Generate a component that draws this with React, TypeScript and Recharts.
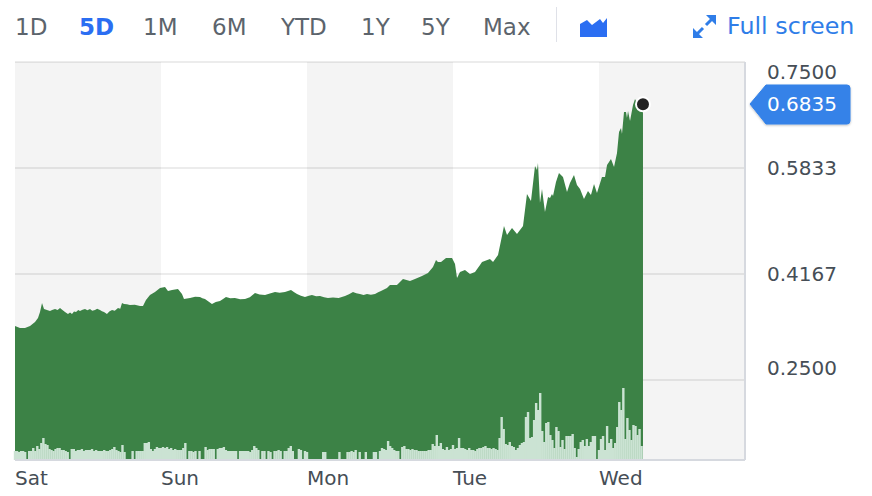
import { ComposedChart, Area, Bar, XAxis, YAxis, CartesianGrid, ReferenceArea, ReferenceDot } from 'recharts'

const ranges = ['1D', '5D', '1M', '6M', 'YTD', '1Y', '5Y', 'Max']
const rangeLefts = [15, 79, 143, 212, 281, 361, 421, 483]
const dayLabels = ['Sat', 'Sun', 'Mon', 'Tue', 'Wed']
const dayHours = [0, 24, 48, 72, 96]
const priceTicks = [0.25, 0.4167, 0.5833, 0.75]
const lastPrice = 0.6835

const priceHours = [
  0, 0.82, 1.64, 2.47, 3.29, 3.78, 4.11, 4.44, 4.77,
  5.26, 5.75, 6.1, 6.58, 7.0, 7.4, 7.8, 8.22, 8.71, 9.05, 9.37, 9.7, 10.03, 10.4, 10.68, 11.1, 11.51, 11.9, 12.33, 12.7,
  13.15, 13.5, 13.97, 14.3, 14.63, 15.12, 15.5, 15.95, 16.4, 16.93, 17.3, 17.59, 17.92, 18.4, 18.9, 19.7, 20.55, 21.04,
  21.53, 22.19, 23.01, 23.84, 24.66, 25.15, 25.81, 26.79, 27.45, 27.78,
  28.77, 29.6, 30.41, 30.8, 31.23, 31.8, 32.38, 33, 33.7, 34.2, 34.68, 35.4, 36.16, 37, 37.81, 38.6, 39.45, 40.2, 41.1,
  41.9, 42.74, 43.5, 44.38, 45.37, 45.9, 46.36, 47, 47.67, 48.3, 48.82, 49.5, 50.14, 50.8, 51.45, 52.27, 53.2, 54.25,
  54.9, 55.56, 56.1, 56.71, 57.3, 57.86, 58.5, 59.18, 59.7, 60.16,
  61.15, 61.64, 62.79, 63.78, 64.93, 65.75, 66.9, 67.89, 68.71, 69.21, 69.53, 70.03, 70.85, 71.84, 72.33, 72.66, 73.15,
  73.97, 74.79, 75.62, 76.44, 76.77, 78.08, 78.58, 79.4, 80.05, 80.38, 80.88, 81.7, 82.52, 83.51, 84.16, 84.82, 85.48,
  85.81, 85.97, 86.3, 86.63, 87.12, 87.62, 87.95, 88.27, 88.44, 88.93, 89.42, 90.08, 90.74, 91.23, 91.89, 92.38, 92.88,
  93.53, 94.19, 94.68, 95.18, 95.67, 96.49, 96.99, 97.32, 97.97, 98.47, 98.96, 99.29, 99.62, 99.78, 100.11, 100.44, 100.6,
  100.77, 101.1, 101.59, 101.92, 102.25, 102.74, 103.23,
]
const prices = [
  0.3349, 0.3318, 0.3318, 0.3349, 0.3412, 0.3475, 0.3569, 0.3711, 0.3616,
  0.3601, 0.3585, 0.3601, 0.3616, 0.3601, 0.3632, 0.3601, 0.3569, 0.3538, 0.356, 0.3538, 0.3575, 0.3569, 0.36, 0.3585, 0.3606, 0.3616, 0.3595, 0.3616, 0.359,
  0.3601, 0.3622, 0.3601, 0.358, 0.3569, 0.3538, 0.3575, 0.3601, 0.359, 0.3632, 0.362, 0.3711, 0.3695, 0.369, 0.3679, 0.3685, 0.3664, 0.3664,
  0.3758, 0.3836, 0.3884, 0.3947, 0.3962, 0.3899, 0.3915, 0.3931, 0.3852, 0.3774,
  0.3789, 0.381, 0.3805, 0.3785, 0.3774, 0.3735, 0.3695, 0.3725, 0.3742, 0.3775, 0.3805, 0.3785, 0.3789, 0.377, 0.3774, 0.38, 0.3868, 0.3845, 0.3836,
  0.386, 0.3884, 0.387, 0.3884, 0.3915, 0.388, 0.3852, 0.3825, 0.3805, 0.3825, 0.3836, 0.3815, 0.3821, 0.38, 0.3789, 0.3797, 0.379, 0.3821,
  0.385, 0.3884, 0.3865, 0.3852, 0.3835, 0.3852, 0.384, 0.3852, 0.388, 0.3899,
  0.3947, 0.3994, 0.3994, 0.4088, 0.4057, 0.4088, 0.4135, 0.4182, 0.4277, 0.4387, 0.4355, 0.4355, 0.4418, 0.4418, 0.4324, 0.4104, 0.4198,
  0.423, 0.4167, 0.4198, 0.4308, 0.4355, 0.4403, 0.4355, 0.4465, 0.4764, 0.4921, 0.478, 0.489, 0.4796, 0.4921, 0.5425, 0.5314, 0.5865,
  0.5802, 0.5912, 0.5283, 0.5503, 0.5142, 0.5377, 0.5362, 0.5425, 0.5393, 0.5613, 0.5755, 0.5692, 0.5456, 0.5597, 0.5723, 0.5566, 0.5503,
  0.5346, 0.5472, 0.5409, 0.5582, 0.544, 0.5692, 0.5692, 0.5881, 0.5975, 0.5849, 0.6069, 0.6399, 0.6462, 0.6368, 0.6714, 0.6714, 0.6619,
  0.673, 0.6572, 0.6824, 0.6918, 0.6855, 0.684, 0.6835,
]

// volume per 20 minutes, one list per day
const satVolume = [
  9, 9, 8, 9, 9, 8, 0, 9, 9, 12, 9, 14, 11, 17, 22, 16, 15, 11, 10, 9, 11, 12, 12, 10, 10, 9, 8, 0, 11, 11, 9, 10, 10, 11, 9, 10,
  10, 10, 11, 9, 10, 9, 9, 9, 10, 9, 9, 10, 11, 13, 10, 9, 8, 15, 8, 0, 0, 0, 9, 0, 9, 9, 9, 9, 17, 17, 18, 11, 9, 11, 13, 12,
]
const sunVolume = [
  12, 13, 12, 13, 11, 12, 10, 11, 10, 10, 10, 12, 17, 0, 9, 9, 8, 9, 0, 9, 0, 0, 13, 10, 11, 11, 11, 0, 11, 12, 12, 13, 10, 9, 9, 9,
  9, 9, 0, 9, 9, 9, 9, 9, 8, 10, 14, 12, 10, 0, 9, 9, 0, 9, 8, 0, 9, 9, 10, 9, 0, 9, 9, 12, 14, 9, 0, 0, 11, 10, 0, 9,
]
const monVolume = [
  8, 0, 0, 0, 0, 0, 0, 0, 8, 8, 0, 0, 0, 0, 0, 0, 8, 0, 0, 0, 8, 8, 9, 8, 10, 0, 8, 0, 0, 8, 0, 0, 0, 8, 8, 0,
  9, 12, 11, 10, 19, 14, 12, 10, 9, 9, 0, 13, 14, 11, 11, 10, 11, 10, 10, 9, 9, 9, 9, 9, 10, 10, 16, 14, 25, 14, 17, 11, 10, 13, 10, 11,
]
const tueVolume = [
  15, 11, 12, 22, 12, 12, 11, 10, 12, 10, 10, 9, 11, 12, 12, 13, 14, 12, 12, 11, 12, 11, 10, 22, 43, 31, 16, 15, 18, 14, 13, 10, 12, 15, 17, 18,
  43, 48, 22, 23, 40, 57, 50, 67, 29, 18, 37, 38, 25, 20, 12, 33, 29, 13, 20, 11, 24, 24, 24, 26, 12, 3, 11, 18, 20, 14, 21, 14, 18, 24, 24, 0,
]
const wedVolume = [10, 21, 24, 10, 34, 17, 21, 12, 17, 33, 58, 50, 72, 21, 42, 30, 20, 35, 34, 25, 31, 14]

const volumes = [...satVolume, ...sunVolume, ...monVolume, ...tueVolume, ...wedVolume]
const volumeRows = volumes.map((volume, i) => ({ hour: i / 3, volume }))
const priceRows = priceHours.map((hour, i) => ({ hour, price: prices[i] }))

const gray = '#464e56'
const blue = '#2b6ef2'
const font = '"DejaVu Sans", sans-serif'

function DayTick({ x, y, payload }: any) {
  return (
    <text x={x} y={y + 17} textAnchor="start" fill={gray} fontFamily={font} fontSize={20}>
      {dayLabels[dayHours.indexOf(payload.value)]}
    </text>
  )
}

function PriceTick({ x, y, payload }: any) {
  // the outer labels are pulled in from the plot edges
  const shift = payload.value === 0.75 ? 10 : payload.value === 0.25 ? -12 : 0
  return (
    <text x={x + 14} y={y + shift + 7} textAnchor="start" fill={gray} fontFamily={font} fontSize={20}>
      {payload.value.toFixed(4)}
    </text>
  )
}

function VolumeBar({ x, y, width, height }: any) {
  if (!height) return null
  return <rect x={x + width / 2 - 1.2} y={y} width={2.4} height={height} fill="#cbe3d3" />
}

export default function App() {
  return (
    <div style={{ position: 'absolute', left: 0, top: 0, width: 872, height: 496, background: '#fff', fontFamily: font }}>
      {ranges.map((r, i) => (
        <span
          key={r}
          style={{
            position: 'absolute',
            left: rangeLefts[i],
            top: 11,
            fontSize: 23,
            lineHeight: '32px',
            fontWeight: r === '5D' ? 700 : 400,
            color: r === '5D' ? blue : '#5c646c',
          }}
        >
          {r}
        </span>
      ))}
      <div style={{ position: 'absolute', left: 556, top: 7, width: 1, height: 35, background: '#dfe1e8' }} />
      <svg style={{ position: 'absolute', left: 0, top: 0 }} width={872} height={60}>
        <path d="M580 37 V24 L587 20 L592 25 L600 19 L603 23 L607 18 V37 Z" fill={blue} />
        <path d="M693 38 V28 L703 38 Z M716 15 H706 L716 25 Z" fill="#2f7de8" />
        <path d="M697 34 L703 28 M712 19 L706 25" stroke="#2f7de8" strokeWidth={3} fill="none" />
      </svg>
      <span style={{ position: 'absolute', left: 727, top: 10, fontSize: 23.8, lineHeight: '32px', color: '#2f7de8' }}>
        Full screen
      </span>

      <ComposedChart
        width={872}
        height={496}
        data={volumeRows}
        margin={{ top: 62, right: 0, bottom: 0, left: 15 }}
      >
        <CartesianGrid yAxisId="price" vertical={false} stroke="#ececec" strokeWidth={2} syncWithTicks />
        <ReferenceArea x1={0} x2={24} yAxisId="price" fill="#000000" fillOpacity={0.045} stroke="none" />
        <ReferenceArea x1={48} x2={72} yAxisId="price" fill="#000000" fillOpacity={0.045} stroke="none" />
        <ReferenceArea x1={96} x2={120} yAxisId="price" fill="#000000" fillOpacity={0.045} stroke="none" />
        <XAxis
          dataKey="hour"
          type="number"
          domain={[0, 120]}
          ticks={dayHours}
          height={36}
          tick={DayTick}
          tickLine={false}
          axisLine={{ stroke: '#d6d9df', strokeWidth: 2 }}
        />
        <YAxis
          yAxisId="price"
          orientation="right"
          type="number"
          domain={[0.1242, 0.75]}
          ticks={priceTicks}
          width={127}
          tick={PriceTick}
          tickLine={false}
          axisLine={{ stroke: '#d6d9df', strokeWidth: 2 }}
        />
        <YAxis yAxisId="volume" hide orientation="left" type="number" domain={[0, 398]} width={0} />
        <Area
          yAxisId="price"
          data={priceRows}
          dataKey="price"
          type="linear"
          fill="#3c8246"
          fillOpacity={1}
          stroke="none"
          dot={false}
          activeDot={false}
          isAnimationActive={false}
        />
        <Bar yAxisId="volume" dataKey="volume" shape={VolumeBar} isAnimationActive={false} />
        <ReferenceDot
          yAxisId="price"
          x={priceHours[priceHours.length - 1]}
          y={lastPrice}
          r={7}
          fill="#222222"
          stroke="#ffffff"
          strokeWidth={2}
        />
      </ComposedChart>

      <svg style={{ position: 'absolute', left: 740, top: 78, overflow: 'visible' }} width={120} height={54}>
        <defs>
          <filter id="s" x="-10%" y="-10%" width="120%" height="130%">
            <feDropShadow dx="0" dy="1" stdDeviation="1" floodColor="#000" floodOpacity="0.25" />
          </filter>
        </defs>
        <path
          d="M10 26 L26 7 H107 Q110 7 110 10 V43 Q110 46 107 46 H26 Z"
          fill="#3482e8"
          stroke="#3482e8"
          strokeLinejoin="round"
          filter="url(#s)"
        />
        <text x={27} y={33} fill="#ffffff" fontFamily={font} fontSize={20}>
          {lastPrice.toFixed(4)}
        </text>
      </svg>
    </div>
  )
}
